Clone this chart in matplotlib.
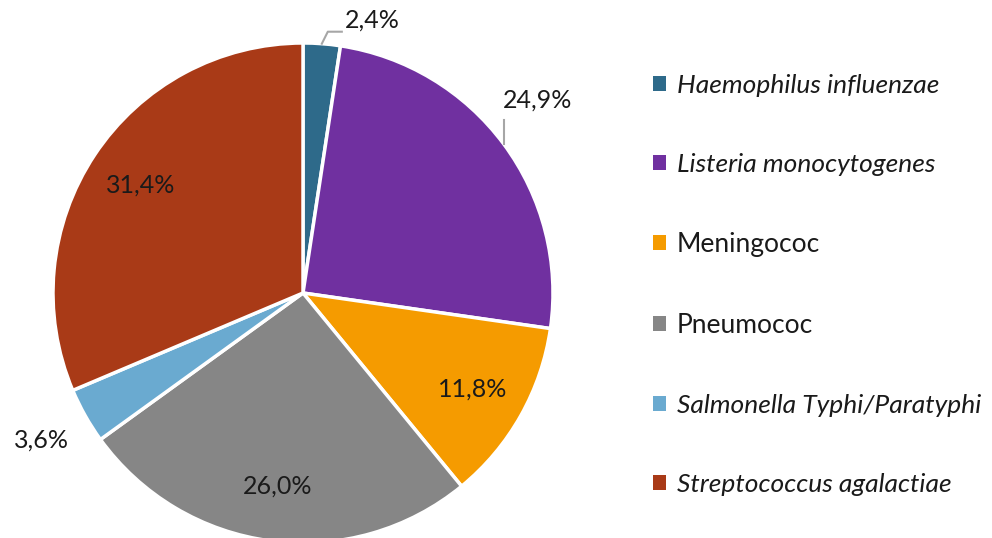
import numpy as np
import matplotlib.pyplot as plt
from matplotlib.patches import Patch

plt.rcParams['font.family'] = ['Lato', 'DejaVu Sans']

# share of cases per pathogen (%)
labels = ["Haemophilus influenzae", "Listeria monocytogenes", "Meningococ",
          "Pneumococ", "Salmonella Typhi/Paratyphi", "Streptococcus agalactiae"]
shares = [2.4, 24.9, 11.8, 26.0, 3.6, 31.4]
italic = [True, True, False, False, True, True]
colors = ["#2E6A8A", "#7030A0", "#F59B00", "#868686", "#6AAAD0", "#A93A17"]

W, H = 992, 538
fig = plt.figure(figsize=(W / 100, H / 100), dpi=100)
ax = fig.add_axes([0, 0, 1, 1])

cx, cy, R = 303, 245, 250
wedges, _ = ax.pie(shares, colors=colors, startangle=90, counterclock=False,
                   center=(cx, cy), radius=R, frame=True,
                   wedgeprops=dict(edgecolor='white', linewidth=2.5))
ax.set_xlim(0, W)
ax.set_ylim(0, H)
ax.set_aspect('equal')
ax.axis('off')


def fmt(v):
    return f"{v:.1f}".replace('.', ',') + "%"


def edge_point(w, rf=1.0):
    a = np.deg2rad((w.theta1 + w.theta2) / 2)
    return cx + rf * R * np.cos(a), cy + rf * R * np.sin(a)


fs = 18
txt = '#1a1a1a'
# labels inside the larger wedges
for i in (2, 3, 5):
    x, y = edge_point(wedges[i], 0.78)
    ax.text(x, y, fmt(shares[i]), ha='center', va='center', fontsize=fs, color=txt)

# Haemophilus: bent leader line
x0, y0 = edge_point(wedges[0])
ax.plot([x0, x0 + 6, x0 + 20], [y0, y0 + 12, y0 + 12], color='#a6a6a6', lw=1.5)
ax.text(x0 + 23, y0 + 24, fmt(shares[0]), ha='left', va='center', fontsize=fs, color=txt)

# Listeria: vertical leader line
x1, y1 = edge_point(wedges[1])
ax.plot([x1, x1], [y1, y1 + 24], color='#a6a6a6', lw=1.5)
ax.text(x1 + 34, y1 + 44, fmt(shares[1]), ha='center', va='center', fontsize=fs, color=txt)

# Salmonella: label outside, no line
x4, y4 = edge_point(wedges[4], 1.2)
ax.text(x4, y4, fmt(shares[4]), ha='center', va='center', fontsize=fs, color=txt)

handles = [Patch(facecolor=c, edgecolor='none') for c in colors]
leg = ax.legend(handles, labels, loc='upper left', bbox_to_anchor=(653 / W, 1 - 74 / H),
                frameon=False, fontsize=19, labelspacing=2.12, handlelength=0.5,
                handleheight=0.5, handletextpad=0.4, borderaxespad=0, borderpad=0)
for t, it in zip(leg.get_texts(), italic):
    t.set_color(txt)
    if it:
        t.set_style('italic')

fig.savefig('out.png', dpi=100)
